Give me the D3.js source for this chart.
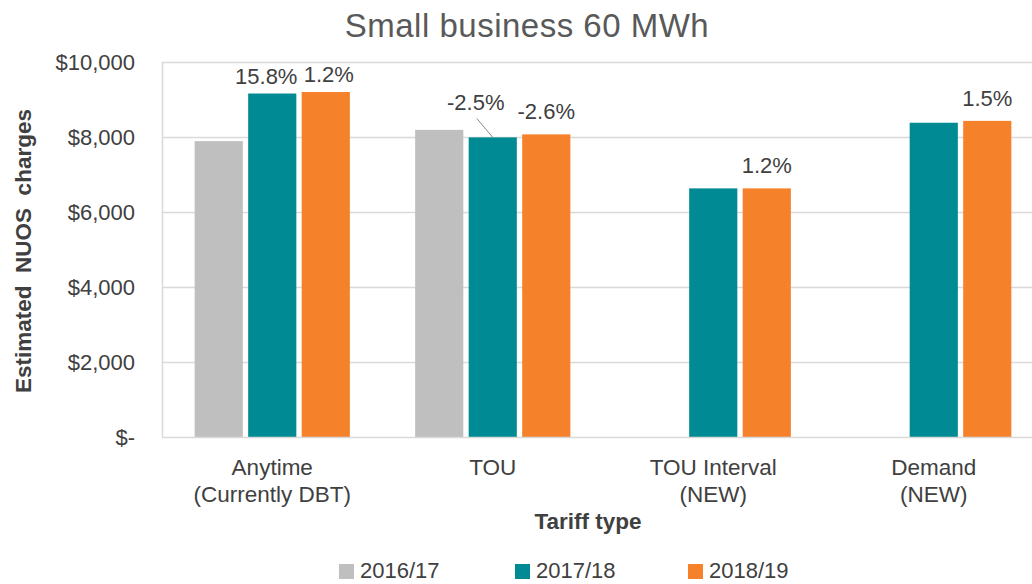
<!DOCTYPE html>
<html>
<head>
<meta charset="utf-8">
<script src="https://cdn.jsdelivr.net/npm/d3@7"></script>
<style>
  html, body { margin: 0; padding: 0; background: #fff; }
  svg { display: block; font-family: "Liberation Sans", Arial, sans-serif; }
</style>
</head>
<body>
<svg id="chart" width="1032" height="584"></svg>
<script>
// ---- Data ----
const categories = [["Anytime", "(Currently DBT)"], ["TOU"], ["TOU Interval", "(NEW)"], ["Demand", "(NEW)"]];
const seriesNames = ["2016/17", "2017/18", "2018/19"];
const values2016 = [7890, 8190, null, null];
const values2017 = [9160, 7990, 6630, 8380];
const values2018 = [9200, 8070, 6630, 8430];
const seriesColors = ["#bfbfbf", "#008b94", "#f5812a"];
const yTicks = [0, 2000, 4000, 6000, 8000, 10000];
const yTickLabels = ["$-", "$2,000", "$4,000", "$6,000", "$8,000", "$10,000"];
// change labels: [categoryIndex, seriesIndex, text]
const changeLabels = [[0, 1, "15.8%"], [0, 2, "1.2%"], [1, 1, "-2.5%"], [1, 2, "-2.6%"], [2, 2, "1.2%"], [3, 2, "1.5%"]];

const seriesValues = [values2016, values2017, values2018];

const svg = d3.select("#chart");
const textColor = "#404040";
const plot = { left: 162, right: 1044, top: 62, bottom: 437 };

const x0 = d3.scaleBand().domain(d3.range(categories.length)).range([plot.left, plot.right]);
const x1 = d3.scaleBand().domain(d3.range(seriesNames.length)).range([0, x0.bandwidth()])
  .paddingInner(0.1).paddingOuter(0.61);
const y = d3.scaleLinear().domain([0, 10000]).range([plot.bottom, plot.top]);

// Gridlines
svg.append("g").selectAll("line").data(yTicks.filter(d => d > 0)).join("line")
  .attr("x1", plot.left).attr("x2", plot.right)
  .attr("y1", d => Math.round(y(d)) + 0.5).attr("y2", d => Math.round(y(d)) + 0.5)
  .attr("stroke", "#d9d9d9").attr("stroke-width", 1.5);

// Left axis line
svg.append("line").attr("x1", plot.left + 0.5).attr("x2", plot.left + 0.5)
  .attr("y1", plot.top).attr("y2", plot.bottom)
  .attr("stroke", "#d9d9d9").attr("stroke-width", 1.5);

// Y tick labels
svg.append("g").selectAll("text").data(yTicks).join("text")
  .attr("x", 135).attr("y", d => y(d)).attr("dy", "0.35em")
  .attr("text-anchor", "end").attr("fill", textColor).attr("font-size", 22)
  .text((d, i) => yTickLabels[i]);

// Bars
const barData = [];
seriesValues.forEach((vals, s) => vals.forEach((v, c) => { if (v != null) barData.push({ c, s, v }); }));
svg.append("g").selectAll("rect").data(barData).join("rect")
  .attr("x", d => x0(d.c) + x1(d.s))
  .attr("width", x1.bandwidth())
  .attr("y", d => y(d.v))
  .attr("height", d => y(0) - y(d.v))
  .attr("fill", d => seriesColors[d.s]);

// Bottom axis line
svg.append("line").attr("x1", plot.left).attr("x2", plot.right)
  .attr("y1", plot.bottom + 0.5).attr("y2", plot.bottom + 0.5)
  .attr("stroke", "#d9d9d9").attr("stroke-width", 1.5);

// Change labels
const lbl = svg.append("g");
changeLabels.forEach(([c, s, t]) => {
  const cx = x0(c) + x1(s) + x1.bandwidth() / 2;
  const top = y(seriesValues[s][c]);
  let lx = cx, ly = top - 15;
  if (c === 0) { ly = top - 10; lx = cx + (s === 1 ? -6 : 3); }
  if (c === 1 && s === 1) {
    lx = cx - 17; ly = top - 27;
    lbl.append("line").attr("x1", cx - 16).attr("y1", top - 19).attr("x2", cx).attr("y2", top)
      .attr("stroke", "#8c8c8c").attr("stroke-width", 1);
  }
  lbl.append("text").attr("x", lx).attr("y", ly).attr("text-anchor", "middle")
    .attr("fill", textColor).attr("font-size", 22).text(t);
});

// Category labels
const catG = svg.append("g");
categories.forEach((lines, c) => {
  const t = catG.append("text").attr("x", x0(c) + x0.bandwidth() / 2).attr("y", 475)
    .attr("text-anchor", "middle").attr("fill", textColor).attr("font-size", 22.5);
  lines.forEach((ln, i) => t.append("tspan").attr("x", x0(c) + x0.bandwidth() / 2).attr("dy", i === 0 ? 0 : 27).text(ln));
});

// Axis titles
svg.append("text").attr("x", 588).attr("y", 529).attr("text-anchor", "middle")
  .attr("fill", textColor).attr("font-size", 22.5).attr("font-weight", "bold").text("Tariff type");
svg.append("text").attr("transform", "translate(31,251) rotate(-90)").attr("text-anchor", "middle")
  .attr("fill", textColor).attr("font-size", 22.5).attr("font-weight", "bold")
  .attr("xml:space", "preserve").style("white-space", "pre").text("Estimated  NUOS  charges");

// Title
svg.append("text").attr("x", 527).attr("y", 37).attr("text-anchor", "middle")
  .attr("fill", "#595959").attr("font-size", 33).attr("letter-spacing", 0.5).text("Small business 60 MWh");

// Legend
const legendX = [339, 515, 688];
const leg = svg.append("g");
seriesNames.forEach((n, i) => {
  leg.append("rect").attr("x", legendX[i]).attr("y", 564).attr("width", 15).attr("height", 15).attr("fill", seriesColors[i]);
  leg.append("text").attr("x", legendX[i] + 21).attr("y", 578).attr("fill", textColor).attr("font-size", 22).text(n);
});
</script>
</body>
</html>
